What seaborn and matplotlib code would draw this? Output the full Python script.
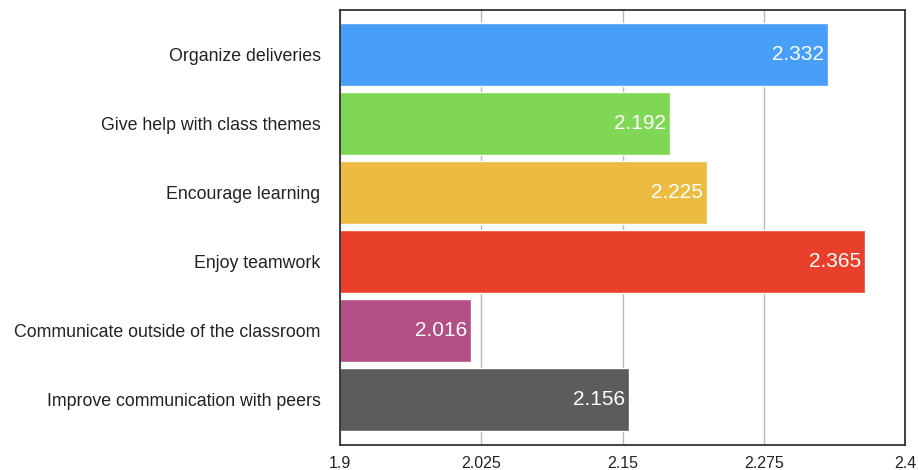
import matplotlib
matplotlib.use("Agg")
import matplotlib.pyplot as plt
import seaborn as sns
import pandas as pd

categories = [
    "Organize deliveries",
    "Give help with class themes",
    "Encourage learning",
    "Enjoy teamwork",
    "Communicate outside of the classroom",
    "Improve communication with peers",
]
values = [2.332, 2.192, 2.225, 2.365, 2.016, 2.156]
colors = ["#479ff8", "#80d755", "#ecbb42", "#e8402a", "#b24f85", "#5c5c5c"]
x_ticks = [1.9, 2.025, 2.15, 2.275, 2.4]
x_tick_labels = ["1.9", "2.025", "2.15", "2.275", "2.4"]

sns.set_theme(style="white")
plt.rcParams["font.family"] = ["Liberation Sans", "DejaVu Sans"]

df = pd.DataFrame({"category": categories, "value": values})

fig = plt.figure(figsize=(9.18, 4.70), dpi=100)
ax = fig.add_axes([340 / 918, 1 - 445 / 470, (905 - 340) / 918, (445 - 10) / 470])

sns.barplot(
    data=df, y="category", x="value", hue="category",
    palette=colors, orient="h", width=0.91, saturation=1,
    legend=False, ax=ax, zorder=2,
)

ax.set_xlim(1.9, 2.4)
ax.set_ylim(5.66, -0.645)
ax.set_xticks(x_ticks)
ax.set_xticklabels(x_tick_labels, fontsize=11.5, color="#222222")
ax.tick_params(axis="y", labelsize=12.8, colors="#222222", length=0, pad=14)
ax.tick_params(axis="x", length=0, pad=8)
ax.set_xlabel("")
ax.set_ylabel("")

ax.xaxis.grid(True, color="#b8b8b8", linewidth=1.0, zorder=0)
ax.set_axisbelow(True)
for s in ax.spines.values():
    s.set_visible(True)
    s.set_color("#333333")
    s.set_linewidth(1.3)

for i, v in enumerate(values):
    ax.text(v - 0.0035, i, f"{v:.3f}", ha="right", va="center",
            color="white", fontsize=15, zorder=3)

fig.savefig("out.png", dpi=100)
